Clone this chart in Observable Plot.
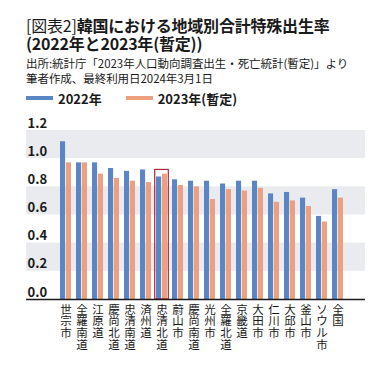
<!DOCTYPE html>
<html>
<head>
<meta charset="utf-8">
<script src="https://cdn.jsdelivr.net/npm/d3@7"></script>
<script src="https://cdn.jsdelivr.net/npm/@observablehq/plot@0.6"></script>
<style>
  html, body { margin: 0; padding: 0; background: #fff; }
  body { width: 387px; height: 370px; overflow: hidden; font-family: "Noto Sans CJK JP", "Noto Sans", sans-serif; color: #1a1a1a; }
  #head { box-sizing: border-box; height: 108px; padding: 17px 0 0 26px; }
  .title { font-size: 16px; line-height: 17.5px; font-weight: bold; letter-spacing: -0.2px; }
  .sub { margin-top: 4px; font-size: 11.5px; line-height: 15px; letter-spacing: -0.05px; }
  .legend { margin-top: 4.5px; font-size: 13px; line-height: 15px; font-weight: bold; display: flex; align-items: center; }
  .legend .sw { display: inline-block; width: 27px; height: 4px; margin-right: 5px; }
  .legend .item { display: flex; align-items: center; margin-right: 24px; }
</style>
</head>
<body>
<div id="head">
  <div class="title"><span style="font-weight:normal">[図表2]</span>韓国における地域別合計特殊出生率<br>(2022年と2023年(暫定))</div>
  <div class="sub">出所:統計庁「2023年人口動向調査出生・死亡統計(暫定)」より<br>筆者作成、最終利用日2024年3月1日</div>
  <div class="legend" id="legend"></div>
</div>
<div id="chart"></div>
<script>
const regions = ["世宗市","全羅南道","江原道","慶尚北道","忠清南道","済州道","忠清北道","蔚山市","慶尚南道","光州市","全羅北道","京畿道","大田市","仁川市","大邱市","釜山市","ソウル市","全国"];
const v2022 = [1.12,0.97,0.97,0.93,0.91,0.92,0.87,0.85,0.84,0.84,0.82,0.84,0.84,0.75,0.76,0.72,0.59,0.78];
const v2023 = [0.97,0.97,0.89,0.86,0.84,0.83,0.89,0.81,0.80,0.71,0.78,0.77,0.79,0.69,0.70,0.66,0.55,0.72];
const seriesNames = ["2022年","2023年(暫定)"];
const seriesColors = ["#5a86c6","#ee9f80"];
const yTicks = [0, 0.2, 0.4, 0.6, 0.8, 1.0, 1.2];
const highlight = "忠清北道";

const legend = document.getElementById("legend");
seriesNames.forEach((n, i) => {
  const it = document.createElement("span");
  it.className = "item";
  it.innerHTML = `<span class="sw" style="background:${seriesColors[i]}"></span>${n}`;
  legend.appendChild(it);
});

const data = regions.map((r, i) => ({region: r, a: v2022[i], b: v2023[i]}));
const bands = yTicks.slice(0, -1).map((t, i) => ({y1: t, y2: yTicks[i + 1], shade: i % 2 === 1})).filter(d => d.shade);
const hi = data.filter(d => d.region === highlight).map(d => ({region: d.region, top: Math.max(d.a, d.b) + 0.03}));

// vertical labels: one text mark per character row
const chars = regions.flatMap(r => [...r].map((ch, k) => ({region: r, ch, k})));
const maxRows = d3.max(regions, r => [...r].length);
const rowPitch = 11.7;
const labelMarks = d3.range(maxRows).map(k =>
  Plot.text(chars.filter(c => c.k === k), {x: "region", text: "ch", frameAnchor: "bottom", lineAnchor: "top", dy: 6 + k * rowPitch, fontSize: 11.5, fontFamily: "'Noto Sans CJK JP', sans-serif", fill: "#1a1a1a"})
);

const chart = Plot.plot({
  width: 387,
  height: 262,
  marginTop: 22,
  marginLeft: 26,
  marginRight: 22,
  marginBottom: 71,
  style: {fontFamily: "'Noto Sans CJK JP', sans-serif", color: "#1a1a1a", background: "#fff"},
  x: {domain: regions, paddingInner: 0.317, paddingOuter: 1.4, align: 0.61, axis: null},
  y: {domain: [0, 1.2], axis: null},
  marks: [
    Plot.rectY(bands, {y1: "y1", y2: "y2", fill: "#e9ebee"}),
    Plot.barY(data, {x: "region", y: "a", fill: seriesColors[0], insetRight: 5.9}),
    Plot.barY(data, {x: "region", y: "b", fill: seriesColors[1], insetLeft: 5.9}),
    Plot.barY(hi, {x: "region", y: "top", fill: "none", stroke: "#a8283a", strokeWidth: 1.2, insetLeft: -1.3, insetRight: -1.3}),
    Plot.ruleY([0], {stroke: "#1a1a1a", strokeWidth: 1.3}),
    Plot.text(yTicks, {y: d => d, text: d => d.toFixed(1), frameAnchor: "left", textAnchor: "start", lineAnchor: "bottom", dx: 1, dy: -3, fontWeight: "bold", fontSize: 13, fill: "#1a1a1a"}),
    ...labelMarks
  ]
});
document.getElementById("chart").appendChild(chart);
</script>
</body>
</html>
